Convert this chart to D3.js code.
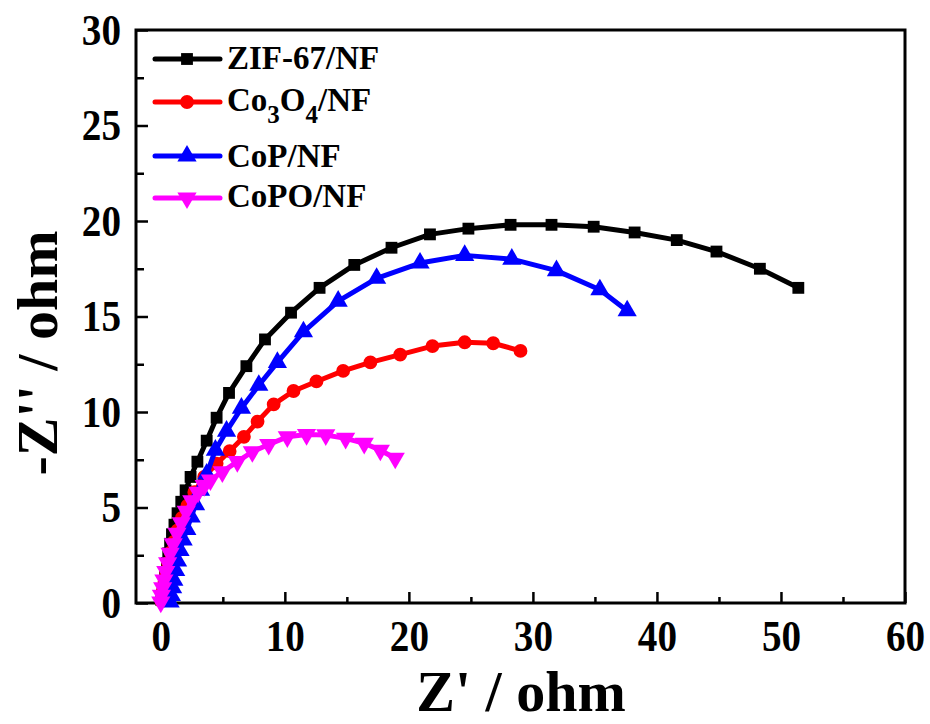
<!DOCTYPE html>
<html>
<head>
<meta charset="utf-8">
<script src="https://cdn.jsdelivr.net/npm/d3@7"></script>
<style>
  html, body { margin: 0; padding: 0; background: #fff; }
  svg { display: block; }
  text { font-family: "Liberation Serif", "Times New Roman", serif; font-weight: bold; fill: #000; }
</style>
</head>
<body>
<svg id="chart" width="930" height="724"></svg>
<script>
// Nyquist data: Z' (real) and -Z'' (imaginary), ohm
const zifX = [0.05, 0.15, 0.25, 0.35, 0.5, 0.6, 0.75, 0.9, 1.1, 1.35, 1.65, 2.0, 2.4, 2.95, 3.7, 4.5, 5.5, 6.9, 8.4, 10.5, 12.8, 15.6, 18.6, 21.7, 24.8, 28.2, 31.5, 34.9, 38.2, 41.6, 44.8, 48.3, 51.4];
const zifY = [0.15, 0.6, 1.1, 1.6, 2.1, 2.6, 3.1, 3.6, 4.1, 4.7, 5.3, 5.9, 6.6, 7.4, 8.5, 9.7, 11.0, 12.4, 13.8, 15.2, 16.5, 17.7, 18.6, 19.3, 19.6, 19.8, 19.8, 19.7, 19.4, 19.0, 18.4, 17.5, 16.5];

const co3o4X = [0.05, 0.15, 0.3, 0.45, 0.6, 0.8, 1.05, 1.35, 1.7, 2.15, 2.7, 3.5, 4.5, 5.55, 6.7, 7.8, 9.1, 10.7, 12.55, 14.7, 16.9, 19.3, 21.9, 24.5, 26.8, 29.0];
const co3o4Y = [0.1, 0.6, 1.1, 1.6, 2.1, 2.65, 3.2, 3.8, 4.45, 5.1, 5.8, 6.6, 7.3, 7.95, 8.7, 9.5, 10.4, 11.1, 11.6, 12.15, 12.6, 13.0, 13.45, 13.65, 13.6, 13.2];

const copX = [0.75, 0.85, 0.95, 1.05, 1.2, 1.35, 1.55, 1.8, 2.1, 2.45, 2.8, 3.2, 3.7, 4.4, 5.3, 6.5, 7.9, 9.4, 11.5, 14.3, 17.4, 20.9, 24.5, 28.3, 31.9, 35.4, 37.6];
const copY = [0.05, 0.4, 0.8, 1.2, 1.7, 2.2, 2.75, 3.3, 3.85, 4.5, 5.15, 5.9, 6.75, 8.0, 9.0, 10.2, 11.4, 12.6, 14.2, 15.8, 17.0, 17.8, 18.2, 18.0, 17.4, 16.4, 15.3];

const copoX = [0.0, 0.05, 0.15, 0.25, 0.4, 0.55, 0.75, 1.0, 1.3, 1.65, 2.05, 2.5, 3.0, 3.5, 4.0, 4.96, 6.17, 7.38, 8.7, 10.2, 11.75, 13.3, 14.9, 16.4, 17.7, 18.9];
const copoY = [0.05, 0.4, 0.8, 1.2, 1.65, 2.1, 2.6, 3.1, 3.65, 4.2, 4.8, 5.35, 5.8, 6.15, 6.44, 6.87, 7.4, 7.92, 8.3, 8.7, 8.82, 8.8, 8.62, 8.36, 8.0, 7.58];

const seriesNames = ["ZIF-67/NF", "Co3O4/NF", "CoP/NF", "CoPO/NF"];
const seriesColors = ["#000000", "#ff0000", "#0000ff", "#ff00ff"];
const seriesSymbols = [d3.symbolSquare, d3.symbolCircle, d3.symbolTriangle, "triangleDown"];

const xTicks = [0, 10, 20, 30, 40, 50, 60];
const xMinorTicks = [5, 15, 25, 35, 45, 55];
const yTicks = [0, 5, 10, 15, 20, 25, 30];
const yMinorTicks = [2.5, 7.5, 12.5, 17.5, 22.5, 27.5];

const series = [
  { x: zifX, y: zifY },
  { x: co3o4X, y: co3o4Y },
  { x: copX, y: copY },
  { x: copoX, y: copoY }
].map((s, i) => ({
  name: seriesNames[i],
  color: seriesColors[i],
  symbol: seriesSymbols[i],
  points: s.x.map((v, j) => [v, s.y[j]])
}));

const svg = d3.select("#chart");
const plotLeft = 136, plotRight = 905, plotTop = 30, plotBottom = 603;

const x = d3.scaleLinear().domain([-2, 60]).range([plotLeft, plotRight]);
const y = d3.scaleLinear().domain([0, 30]).range([plotBottom, plotTop]);

const labelScaleX = 0.89;

// Bottom axis: major ticks with labels, minor ticks without
const gx = svg.append("g").attr("transform", `translate(0,${plotBottom})`)
  .call(d3.axisBottom(x).tickValues(xTicks).tickSizeInner(-11).tickSizeOuter(0).tickPadding(17).tickFormat(d3.format("d")));
gx.selectAll("text").style("font-size", "44px")
  .attr("transform", `scale(${labelScaleX},1)`);
svg.append("g").attr("transform", `translate(0,${plotBottom})`)
  .call(d3.axisBottom(x).tickValues(xMinorTicks).tickSizeInner(-6).tickSizeOuter(0).tickFormat(""));

// Left axis
const gy = svg.append("g").attr("transform", `translate(${plotLeft},0)`)
  .call(d3.axisLeft(y).tickValues(yTicks).tickSizeInner(-12).tickSizeOuter(0).tickPadding(0).tickFormat(d3.format("d")));
gy.selectAll("text").style("font-size", "44px")
  .attr("x", 0)
  .attr("transform", `translate(-15,0) scale(${labelScaleX},1)`);
svg.append("g").attr("transform", `translate(${plotLeft},0)`)
  .call(d3.axisLeft(y).tickValues(yMinorTicks).tickSizeInner(-8).tickSizeOuter(0).tickFormat(""));

svg.selectAll(".domain").remove();
svg.selectAll(".tick line").attr("stroke", "#000").attr("stroke-width", 2.5);

// Plot frame
svg.append("rect")
  .attr("x", plotLeft).attr("y", plotTop)
  .attr("width", plotRight - plotLeft).attr("height", plotBottom - plotTop)
  .attr("fill", "none").attr("stroke", "#000").attr("stroke-width", 3);

// Axis titles
svg.append("text")
  .attr("x", 521).attr("y", 711)
  .attr("text-anchor", "middle")
  .style("font-size", "58px")
  .text("Z' / ohm");

svg.append("text")
  .attr("transform", "translate(57,353) rotate(-90)")
  .attr("text-anchor", "middle")
  .style("font-size", "58px")
  .text("-Z'' / ohm");

// Marker shapes
function markerPath(sym, size) {
  if (sym === "triangleDown") {
    return d3.symbol().type(d3.symbolTriangle).size(size)();
  }
  return d3.symbol().type(sym).size(size)();
}
const markerSizes = [140, 150, 160, 160];

const line = d3.line().x(d => x(d[0])).y(d => y(d[1]));

const plot = svg.append("g");
series.forEach((s, i) => {
  const g = plot.append("g");
  g.append("path")
    .attr("d", line(s.points))
    .attr("fill", "none")
    .attr("stroke", s.color)
    .attr("stroke-width", 5)
    .attr("stroke-linejoin", "round");
  g.selectAll("path.m")
    .data(s.points)
    .join("path")
    .attr("class", "m")
    .attr("d", markerPath(s.symbol, markerSizes[i]))
    .attr("transform", d => `translate(${x(d[0])},${y(d[1])})` + (s.symbol === "triangleDown" ? " rotate(180)" : ""))
    .attr("fill", s.color);
});

// Legend
const legendLineY = [59, 102, 156, 198];
const legendTextY = [69, 111, 167, 207];
const legend = svg.append("g");
series.forEach((s, i) => {
  legend.append("line")
    .attr("x1", 155).attr("x2", 220)
    .attr("y1", legendLineY[i]).attr("y2", legendLineY[i])
    .attr("stroke", s.color).attr("stroke-width", 5)
    .attr("stroke-linecap", "round");
  legend.append("path")
    .attr("d", markerPath(s.symbol, markerSizes[i]))
    .attr("transform", `translate(187,${legendLineY[i]})` + (s.symbol === "triangleDown" ? " rotate(180)" : ""))
    .attr("fill", s.color);
  const t = legend.append("text")
    .attr("x", 227).attr("y", legendTextY[i])
    .style("font-size", "33px");
  if (s.name === "Co3O4/NF") {
    t.append("tspan").text("Co");
    t.append("tspan").text("3").style("font-size", "25px").attr("dy", 12);
    t.append("tspan").text("O").attr("dy", -12);
    t.append("tspan").text("4").style("font-size", "25px").attr("dy", 12);
    t.append("tspan").text("/NF").attr("dy", -12);
  } else {
    t.text(s.name);
  }
});
</script>
</body>
</html>
